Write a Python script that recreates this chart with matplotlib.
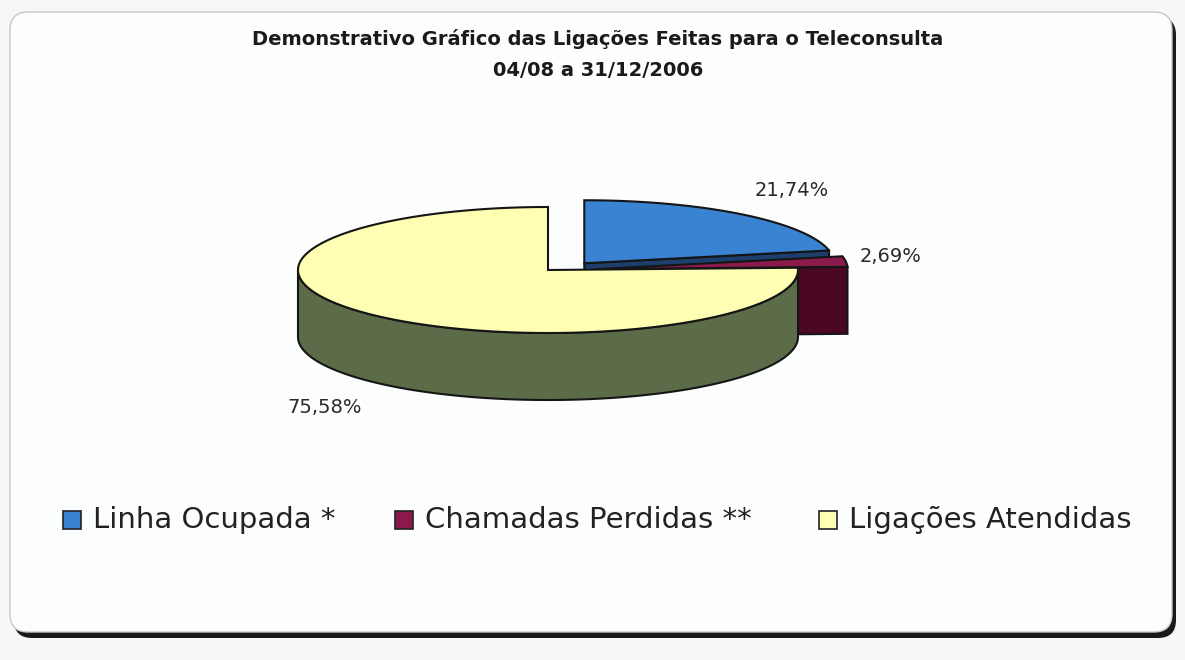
import numpy as np
import matplotlib
matplotlib.use("Agg")
import matplotlib.pyplot as plt
from matplotlib.patches import Polygon, FancyBboxPatch, Rectangle

# ---- data ----
categories = ["Linha Ocupada *", "Chamadas Perdidas **", "Ligações Atendidas"]
values = [21.74, 2.69, 75.58]
value_labels = ["21,74%", "2,69%", "75,58%"]
title_lines = ["Demonstrativo Gráfico das Ligações Feitas para o Teleconsulta", "04/08 a 31/12/2006"]

# ---- style ----
top_colors = ["#3A82D2", "#8A1B4C", "#FFFFB4"]
side_colors = ["#1E3E6E", "#4A0822", "#5C6C48"]
explode = [0.23, 0.2, 0.0]
label_nudge = [(15, -13), (-10, -3), (-12, 5)]
FONT = "DejaVu Sans"
EDGE = "#151515"
LW = 1.5

W, H = 1185, 660
fig = plt.figure(figsize=(W / 100, H / 100), dpi=100, facecolor="#f6f8f8")
ax = fig.add_axes([0, 0, 1, 1])
ax.set_xlim(0, W)
ax.set_ylim(H, 0)
ax.axis("off")

# frame with shadow
ax.add_patch(FancyBboxPatch((14, 17), 1162, 621, boxstyle="round,pad=0,rounding_size=18",
                            facecolor="#1a1a1a", edgecolor="none", zorder=0))
ax.add_patch(FancyBboxPatch((10, 12), 1162, 620, boxstyle="round,pad=0,rounding_size=18",
                            facecolor="#fcfdfd", edgecolor="#c8c8c8", lw=1.0, zorder=0.5))

ax.text(598, 39, title_lines[0], ha="center", va="center", fontsize=14,
        fontweight="bold", family=FONT, color="#1a1a1a", zorder=5)
ax.text(598, 71, title_lines[1], ha="center", va="center", fontsize=14,
        fontweight="bold", family=FONT, color="#1a1a1a", zorder=5)

# pie geometry
cx0, cy0 = 548, 270
rx, ry, depth = 250, 63, 67

fr = np.array(values) / sum(values)
ends = 90 - 360 * np.cumsum(fr)
starts = np.concatenate([[90], ends[:-1]])


def P(cx, cy, t, r=1.0):
    t = np.radians(t)
    return np.column_stack([cx + r * rx * np.cos(t), cy - r * ry * np.sin(t)])


z = 1
for i in range(len(values)):
    a_hi, a_lo = starts[i], ends[i]
    m = np.radians((a_hi + a_lo) / 2)
    cx = cx0 + explode[i] * rx * np.cos(m)
    cy = cy0 - explode[i] * ry * 0.6 * np.sin(m)
    # outer wall: front part (angles where sin < 0)
    ts = np.linspace(a_lo, a_hi, 400)
    tt = np.mod(ts, 360)
    front = (tt > 180) & (tt < 360)
    if front.any():
        seg = ts[front]
        top = P(cx, cy, seg)
        bot = top + [0, depth]
        ax.add_patch(Polygon(np.vstack([top, bot[::-1]]), closed=True,
                             facecolor=side_colors[i], edgecolor=EDGE, lw=LW, zorder=z))
    # radial wall at a_lo
    if np.cos(np.radians(a_lo)) > 0:
        rim = P(cx, cy, [a_lo])[0]
        poly = [[cx, cy], rim, rim + [0, depth], [cx, cy + depth]]
        ax.add_patch(Polygon(poly, closed=True, facecolor=side_colors[i],
                             edgecolor=EDGE, lw=LW, zorder=z))
    # top face
    arc = P(cx, cy, np.linspace(a_lo, a_hi, 400))
    ax.add_patch(Polygon(np.vstack([[cx, cy], arc]), closed=True,
                         facecolor=top_colors[i], edgecolor=EDGE, lw=LW, zorder=z + 0.5))
    z += 1
    # label
    lx = cx + 1.22 * rx * np.cos(m) + label_nudge[i][0]
    ly = cy - 1.22 * ry * np.sin(m) + label_nudge[i][1]
    if np.sin(m) < 0:
        ly += depth + 10
    ax.text(lx, ly, value_labels[i], ha="center", va="center", fontsize=14,
            family=FONT, color="#2a2a2a", zorder=10)

# legend
leg_x = [63, 395, 819]
for i, lab in enumerate(categories):
    ax.add_patch(Rectangle((leg_x[i], 511), 18, 18, facecolor=top_colors[i],
                           edgecolor="#222", lw=1.2, zorder=5))
    ax.text(leg_x[i] + 30, 520, lab, ha="left", va="center", fontsize=21,
            family=FONT, color="#222", zorder=5)

fig.savefig("out.png", dpi=100, facecolor=fig.get_facecolor())
